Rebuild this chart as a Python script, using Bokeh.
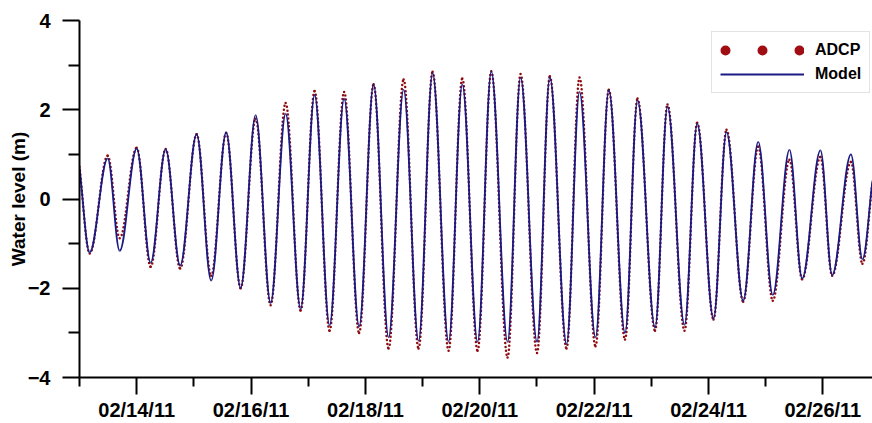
import numpy as np
import pandas as pd
from bokeh.plotting import figure
from bokeh.models import (Range1d, FixedTicker, DatetimeTickFormatter, Legend,
                          LegendItem, ColumnDataSource)
from bokeh.embed import file_html
from bokeh.resources import INLINE

# ---- data (high / low water turning points) ----
extreme_times = [
    "2011-02-13 00:00", "2011-02-13 04:17", "2011-02-13 11:50", "2011-02-13 16:52",
    "2011-02-14 00:00", "2011-02-14 05:52", "2011-02-14 12:10", "2011-02-14 18:15",
    "2011-02-15 01:10", "2011-02-15 07:16", "2011-02-15 13:33", "2011-02-15 19:38",
    "2011-02-16 01:56", "2011-02-16 08:13", "2011-02-16 14:31", "2011-02-16 20:49",
    "2011-02-17 02:41", "2011-02-17 08:58", "2011-02-17 15:04", "2011-02-17 21:22",
    "2011-02-18 03:26", "2011-02-18 09:44", "2011-02-18 16:02", "2011-02-18 22:19",
    "2011-02-19 04:12", "2011-02-19 10:55", "2011-02-19 16:40", "2011-02-19 23:05",
    "2011-02-20 04:50", "2011-02-20 11:40", "2011-02-20 17:07",
    "2011-02-21 00:02", "2011-02-21 05:25", "2011-02-21 12:25", "2011-02-21 17:52",
    "2011-02-22 00:35", "2011-02-22 06:10", "2011-02-22 12:58", "2011-02-22 18:13",
    "2011-02-23 01:34", "2011-02-23 06:48", "2011-02-23 13:56", "2011-02-23 19:16",
    "2011-02-24 02:06", "2011-02-24 07:34", "2011-02-24 14:34", "2011-02-24 20:52",
    "2011-02-25 02:59", "2011-02-25 09:59", "2011-02-25 15:19", "2011-02-25 22:59",
    "2011-02-26 03:54", "2011-02-26 11:47", "2011-02-26 16:37", "2011-02-26 20:49",
]
model_levels = [
    0.70, -1.20, 0.91, -1.16, 1.13, -1.43, 1.11, -1.49, 1.45, -1.83,
    1.49, -1.99, 1.88, -2.33, 1.91, -2.46, 2.33, -2.83, 2.25, -2.86,
    2.57, -3.10, 2.45, -3.18, 2.82, -3.20, 2.57, -3.20, 2.86, -3.20,
    2.72, -3.20, 2.73, -3.25, 2.40, -3.10, 2.44, -3.00, 2.21, -2.88,
    2.07, -2.82, 1.69, -2.68, 1.50, -2.28, 1.28, -2.15, 1.10, -1.78,
    1.09, -1.70, 1.00, -1.35, 0.41,
]
adcp_levels = [
    0.72, -1.22, 0.97, -0.88, 1.15, -1.52, 1.12, -1.56, 1.45, -1.72,
    1.48, -2.00, 1.80, -2.38, 2.15, -2.50, 2.42, -2.95, 2.40, -3.00,
    2.57, -3.35, 2.68, -3.35, 2.85, -3.40, 2.70, -3.40, 2.86, -3.55,
    2.80, -3.45, 2.75, -3.35, 2.72, -3.30, 2.45, -3.15, 2.25, -2.95,
    2.12, -2.95, 1.71, -2.70, 1.55, -2.30, 1.17, -2.28, 0.88, -1.80,
    0.94, -1.72, 0.83, -1.45, 0.38,
]
x_major_dates = ["2011-02-14", "2011-02-16", "2011-02-18", "2011-02-20",
                 "2011-02-22", "2011-02-24", "2011-02-26"]
x_minor_dates = ["2011-02-13", "2011-02-15", "2011-02-17", "2011-02-19",
                 "2011-02-21", "2011-02-23", "2011-02-25"]
y_major_ticks = [-4, -2, 0, 2, 4]
y_minor_ticks = [-3, -1, 1, 3]
x_start, x_end = "2011-02-13 00:00", "2011-02-26 20:50"


def to_ms(vals):
    idx = pd.to_datetime(pd.Series(vals))
    return ((idx - pd.Timestamp("1970-01-01")) // pd.Timedelta("1ms")).to_numpy().astype(float)


def bezier_source(t, y, k=0.36):
    t = np.asarray(t, float)
    y = np.asarray(y, float)
    x0, x1 = t[:-1], t[1:]
    y0, y1 = y[:-1], y[1:]
    dt = x1 - x0
    cx0 = x0 + k * dt
    cx1 = x1 - k * dt
    cy0 = y0.copy()
    cy1 = y1.copy()
    cy0[0] = y0[0] + k * (y1[0] - y0[0])
    cy1[-1] = y1[-1] - k * (y1[-1] - y0[-1])
    return ColumnDataSource(dict(x0=x0, y0=y0, x1=x1, y1=y1,
                                 cx0=cx0, cy0=cy0, cx1=cx1, cy1=cy1))


t_ms = to_ms(extreme_times)
xs = to_ms([x_start, x_end])

RED = "#8e0c10"
NAVY = "#1a1a85"
FONT = "Liberation Sans"

p = figure(width=872, height=423, output_backend="svg", toolbar_location=None,
           x_axis_type="datetime", title=None,
           x_range=Range1d(xs[0], xs[1]), y_range=Range1d(-4, 4),
           min_border_left=79, min_border_right=0, min_border_top=20,
           min_border_bottom=0)
p.outline_line_color = None
p.grid.grid_line_color = None
p.background_fill_color = "white"
p.border_fill_color = "white"

adcp = p.bezier(source=bezier_source(t_ms, adcp_levels), x0="x0", y0="y0",
                x1="x1", y1="y1", cx0="cx0", cy0="cy0", cx1="cx1", cy1="cy1",
                line_color=RED, line_width=2.5, line_dash="0 4", line_cap="round")
model = p.bezier(source=bezier_source(t_ms, model_levels), x0="x0", y0="y0",
                 x1="x1", y1="y1", cx0="cx0", cy0="cy0", cx1="cx1", cy1="cy1",
                 line_color=NAVY, line_width=1.8)

# legend swatches
leg_adcp = p.line(x=[np.nan], y=[np.nan], line_color="#a00d12", line_width=10,
                  line_cap="round", line_dash="0 37", line_dash_offset=32)
leg_model = p.line(x=[np.nan], y=[np.nan], line_color=NAVY, line_width=2)

legend = Legend(items=[LegendItem(label="ADCP", renderers=[leg_adcp]),
                       LegendItem(label="Model", renderers=[leg_model])],
                location=(632, 284), margin=0, padding=8, spacing=4,
                glyph_width=84, glyph_height=20, label_height=20,
                label_standoff=11, border_line_color="#c8c8c8",
                border_line_width=1, background_fill_color="white",
                background_fill_alpha=1.0,
                label_text_font=FONT, label_text_font_size="16px",
                label_text_font_style="bold", label_text_color="black")
p.add_layout(legend)

# x axis
xa = p.xaxis[0]
xa.ticker = FixedTicker(ticks=list(to_ms(x_major_dates)),
                        minor_ticks=list(to_ms(x_minor_dates)))
fmt = "%m/%d/%y"
xa.formatter = DatetimeTickFormatter(milliseconds=fmt, seconds=fmt, minsec=fmt,
                                     minutes=fmt, hourmin=fmt, hours=fmt,
                                     days=fmt, months=fmt, years=fmt)
# y axis
ya = p.yaxis[0]
ya.ticker = FixedTicker(ticks=y_major_ticks, minor_ticks=y_minor_ticks)
ya.axis_label = "Water level (m)"
ya.axis_label_text_font = FONT
ya.axis_label_text_font_size = "19px"
ya.axis_label_text_font_style = "bold"
ya.axis_label_text_color = "black"
ya.axis_label_standoff = -4

for ax in (xa, ya):
    ax.axis_line_width = 2
    ax.axis_line_color = "black"
    ax.major_tick_line_width = 2
    ax.minor_tick_line_width = 2
    ax.major_tick_line_color = "black"
    ax.minor_tick_line_color = "black"
    ax.major_tick_in = 0
    ax.minor_tick_in = 0
    ax.major_label_text_font = FONT
    ax.major_label_text_font_size = "20px"
    ax.major_label_text_font_style = "bold"
    ax.major_label_text_color = "black"

xa.major_tick_out = 17
xa.minor_tick_out = 9
xa.major_label_standoff = 4
ya.major_tick_out = 17
ya.minor_tick_out = 11
ya.major_label_standoff = 12

open("out.html", "w").write(file_html(p, INLINE))
